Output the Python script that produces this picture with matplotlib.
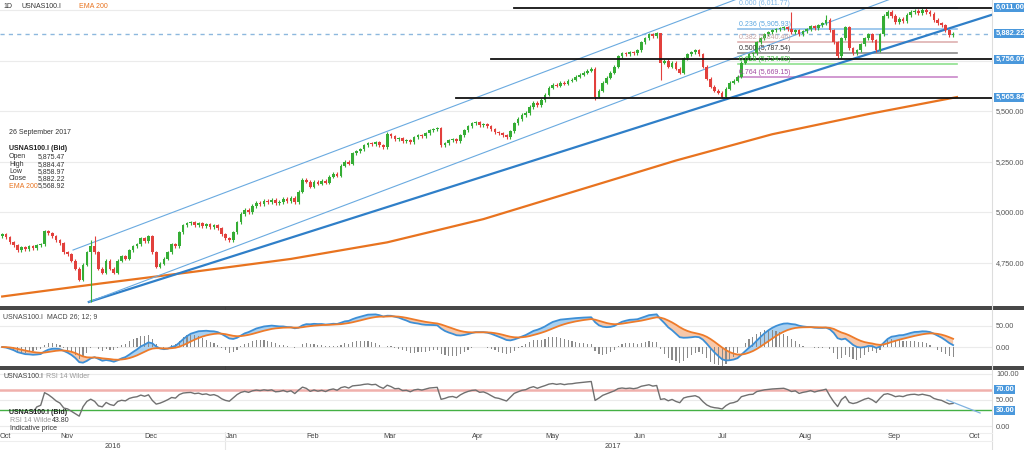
import numpy as np
import pandas as pd
import matplotlib
matplotlib.use("Agg")
import matplotlib.pyplot as plt
import matplotlib.transforms as mtransforms
from matplotlib.lines import Line2D

plt.rcParams["font.family"] = ["Liberation Sans", "DejaVu Sans"]

# ---------- data (daily closes 10 Oct 2016 .. 26 Sep 2017) ----------
close = [
    4890, 4875, 4850, 4835, 4810, 4825, 4815, 4830, 4820, 4835,
    4840, 4905, 4895, 4880, 4860, 4845, 4800, 4790, 4760, 4720,
    4665, 4740, 4800, 4830, 4800, 4720, 4700, 4760, 4720, 4700,
    4760, 4780, 4770, 4810, 4830, 4840, 4870, 4855, 4880, 4800,
    4730, 4745, 4770, 4800, 4840, 4830, 4900, 4935, 4945, 4950,
    4935, 4945, 4930, 4940, 4925, 4935, 4920, 4890, 4870, 4860,
    4900, 4950, 4990, 5010, 5000, 5030, 5045, 5040, 5055, 5050,
    5060, 5045, 5050, 5065, 5055, 5070, 5050, 5100, 5160, 5150,
    5125, 5150, 5140, 5155, 5145, 5175, 5190, 5180, 5230, 5250,
    5240, 5290, 5300, 5310, 5330, 5340, 5335, 5345, 5330, 5320,
    5385, 5375, 5360, 5365, 5350, 5355, 5345, 5370, 5380, 5375,
    5390, 5405, 5410, 5415, 5330, 5340, 5355, 5360, 5350, 5380,
    5405, 5425, 5440, 5445, 5430, 5435, 5425, 5410, 5395, 5390,
    5380, 5370, 5400, 5440, 5460, 5480, 5490, 5520, 5540, 5530,
    5555, 5580, 5615, 5630, 5625, 5640, 5635, 5650, 5655, 5670,
    5680, 5690, 5700, 5710, 5570, 5600, 5640, 5665, 5690, 5720,
    5770, 5785, 5780, 5790, 5785, 5800, 5840, 5860, 5880, 5870,
    5885, 5740, 5750, 5720, 5740, 5710, 5690, 5760, 5780, 5790,
    5800, 5780, 5720, 5660, 5620, 5600, 5590, 5570, 5610, 5640,
    5650, 5670, 5740, 5760, 5780, 5785, 5840, 5860, 5880, 5890,
    5900, 5905, 5910, 5915, 5905, 5890, 5900, 5880, 5895, 5905,
    5920, 5910, 5925, 5935, 5950, 5900, 5840, 5770, 5860, 5915,
    5810, 5785, 5800, 5830, 5860, 5880, 5850, 5800, 5880, 5970,
    5990, 5970, 5940, 5955, 5945, 5975, 5990, 5995, 5985, 6000,
    5990, 5980, 5950, 5935, 5925, 5900, 5876, 5882,
]
first_open = 4880
spike_high = {23: 4860, 24: 4880, 100: 5395, 171: 5790, 205: 5990, 214: 5975}
spike_low = {23: 4555, 114: 5320, 154: 5555, 171: 5655, 217: 5760}
holidays = ["2016-12-26", "2017-01-02", "2017-04-14"]

ema_bar = [0, 25, 50, 75, 100, 125, 150, 175, 200, 225, 248]
ema200 = [4582, 4645, 4705, 4768, 4850, 4965, 5110, 5255, 5385, 5485, 5569]

levels = [6011.00, 5756.07, 5565.84]
level_from = [133, 127, 118]
last_price = 5882.22

fib_names = ["0.000 (6,011.77)", "0.236 (5,905.93)", "0.382 (5,840.46)",
             "0.500 (5,787.54)", "0.618 (5,734.62)", "0.764 (5,669.15)"]
fib_values = [6011.77, 5905.93, 5840.46, 5787.54, 5734.62, 5669.15]
fib_line_col = ["#8fc0ea", "#8fc0ea", "#deb0b0", "#8a8a8a", "#8fe08f", "#c987c9"]
fib_text_col = ["#7fb6e6", "#5aa6e0", "#c7a5a5", "#333333", "#3cc03c", "#a24aa2"]
fib_from, fib_to = 191, 248

# trend lines: (bar0, price0, bar1, price1)
trend_thick = (22.5, 4555, 257.5, 5979)
trend_thin = [(22.5, 4555, 235, 6085), (18.4, 4812, 200, 6120)]

# ---------- indicators ----------
c = pd.Series(close, dtype=float)
o = c.shift(1).fillna(first_open)
macd = c.ewm(span=12, adjust=False).mean() - c.ewm(span=26, adjust=False).mean()
signal = macd.ewm(span=9, adjust=False).mean()
hist = macd - signal
d = c.diff().fillna(0)
gain = d.clip(lower=0).ewm(alpha=1 / 14, adjust=True).mean()
loss = (-d.clip(upper=0)).ewm(alpha=1 / 14, adjust=True).mean()
rsi = 100 - 100 / (1 + gain / loss.replace(0, np.nan))
rsi[:8] = np.nan  # warm-up

cbd = pd.offsets.CustomBusinessDay(holidays=holidays)
dates = pd.date_range(end="2017-09-26", periods=len(close), freq=cbd)
full = pd.date_range("2016-09-01", "2017-10-31", freq=cbd)
offset = full.get_loc(dates[0])

# ---------- layout ----------
W, H = 1024, 450
PLOT_R = 992
XL = (-0.57, 257.1)
FS = 5.0


def rect(x0, y0, x1, y1):
    return [x0 / W, 1 - y1 / H, (x1 - x0) / W, (y1 - y0) / H]


def px(bar):
    return (bar - XL[0]) / (XL[1] - XL[0]) * PLOT_R


def ftext(x, y, s, **kw):
    kw.setdefault("fontsize", FS)
    kw.setdefault("va", "center")
    fig.text(x / W, 1 - y / H, s, **kw)


fig = plt.figure(figsize=(W / 100, H / 100), dpi=100)
ax = fig.add_axes(rect(0, 0, PLOT_R, 307))
axm = fig.add_axes(rect(0, 310, PLOT_R, 366))
axr = fig.add_axes(rect(0, 370, PLOT_R, 432))

for a in (ax, axm, axr):
    a.set_xlim(*XL)
    a.set_xticks([])
    for s in a.spines.values():
        s.set_visible(False)
    a.yaxis.tick_right()
    a.tick_params(axis="y", length=0, labelsize=5.3, labelcolor="#555555", pad=3)

ax.set_ylim(4530, 6049.5)
axm.set_ylim(-45, 88)
axr.set_ylim(-11.5, 107.5)

# ---------- price panel ----------
for g in [4750, 5000, 5250, 5500, 5750, 6000]:
    ax.axhline(g, color="#ebebeb", lw=0.8, zorder=0)
ax.set_yticks([4750, 5000, 5250, 5500])
ax.set_yticklabels([f"{v:,.2f}" for v in [4750, 5000, 5250, 5500]])

x = np.arange(len(close))
hi = np.maximum(o, c) + 8
lo = np.minimum(o, c) - 8
for k, v in spike_high.items():
    hi[k] = v
for k, v in spike_low.items():
    lo[k] = v
up = c >= o
col = np.where(up, "#35ad35", "#e2403c")
ax.vlines(x, lo, hi, colors=col, lw=0.8, zorder=3)
body = np.maximum(np.abs(c - o), 3)
ax.bar(x, body, bottom=np.minimum(o, c), width=0.7, color=col, lw=0, zorder=4)

ax.plot(ema_bar, ema200, color="#e8731f", lw=1.6, zorder=2)

b0, p0, b1, p1 = trend_thick
ax.plot([b0, b1], [p0, p1], color="#2f7fc8", lw=1.6, zorder=2)
for b0, p0, b1, p1 in trend_thin:
    ax.plot([b0, b1], [p0, p1], color="#6aaae0", lw=0.8, zorder=2)

ax.axhline(last_price, color="#8db8de", lw=1, ls=(0, (3, 3)), zorder=1)

for lv, start in zip(levels, level_from):
    ax.plot([start, XL[1]], [lv, lv], color="#111111", lw=1.3, zorder=5)

for name, v, lc, tc in zip(fib_names, fib_values, fib_line_col, fib_text_col):
    ax.plot([fib_from, fib_to], [v, v], color=lc, lw=1.2, zorder=1)
    ax.text(fib_from + 0.5, v + 5, name, color=tc, fontsize=FS, va="bottom", ha="left", zorder=6)

box = dict(boxstyle="square,pad=0.15", fc="#4a98dc", ec="none")
for v in levels + [last_price]:
    ax.text(1.0035, v, f"{v:,.2f}", transform=mtransforms.blended_transform_factory(ax.transAxes, ax.transData),
            color="white", fontsize=5.4, fontweight="bold", va="center", ha="left", bbox=box, clip_on=False)

# ---------- MACD panel ----------
for g in [0, 50]:
    axm.axhline(g, color="#ebebeb", lw=0.8, zorder=0)
axm.set_yticks([0, 50])
axm.set_yticklabels(["0.00", "50.00"])
axm.bar(x, 1.6 * hist, width=0.3, color="#8a8a8a", zorder=2)
axm.fill_between(x, macd, signal, where=macd >= signal, interpolate=True, color="#a9d0f0", lw=0, zorder=1)
axm.fill_between(x, macd, signal, where=macd < signal, interpolate=True, color="#f7c8aa", lw=0, zorder=1)
axm.plot(x, macd, color="#3d8fd6", lw=1.3, zorder=3)
axm.plot(x, signal, color="#ee7b2a", lw=1.3, zorder=3)

# ---------- RSI panel ----------
for g in [0, 50, 100]:
    axr.axhline(g, color="#ebebeb", lw=0.8, zorder=0)
axr.axhline(70, color="#f0b0ac", lw=1.8, zorder=1)
axr.axhline(30, color="#44b044", lw=1.0, zorder=1)
axr.set_yticks([0, 50, 100])
axr.set_yticklabels(["0.00", "50.00", "100.00"])
axr.plot(x, rsi, color="#707070", lw=1.0, zorder=3)
axr.plot([245.4, 254], [50, 25], color="#7fb2e0", lw=0.9, zorder=3)
for v in [70, 30]:
    axr.text(1.0035, v, f"{v:.2f}", transform=mtransforms.blended_transform_factory(axr.transAxes, axr.transData),
             color="white", fontsize=5.4, fontweight="bold", va="center", ha="left", bbox=box, clip_on=False)

# ---------- frame lines ----------
for y in [306.5, 309.0, 366.5, 369.0]:
    fig.add_artist(Line2D([0, 1], [1 - y / H] * 2, transform=fig.transFigure, color="#111111", lw=1.1))
fig.add_artist(Line2D([PLOT_R / W] * 2, [0, 1], transform=fig.transFigure, color="#dddddd", lw=0.8))
for y in [433, 441]:
    fig.add_artist(Line2D([0, PLOT_R / W], [1 - y / H] * 2, transform=fig.transFigure, color="#eeeeee", lw=0.8))

# ---------- months / years ----------
jan_bar = None
for m in pd.date_range("2016-10-01", "2017-10-01", freq="MS"):
    bar = full.searchsorted(m) - offset
    xp = max(px(bar), 0)
    ftext(xp, 437, m.strftime("%b"), ha="left", color="#444444", fontsize=5.3)
    if m.month == 1:
        jan_bar = bar
jx = px(jan_bar)
fig.add_artist(Line2D([jx / W] * 2, [0, 1], transform=fig.transFigure, color="#e6e6e6", lw=0.8, zorder=0))
ftext(px((XL[0] + jan_bar) / 2), 446, "2016", ha="center", color="#444444", fontsize=5.3)
ftext(px((jan_bar + XL[1]) / 2) + 4, 446, "2017", ha="center", color="#444444", fontsize=5.3)

# ---------- legends / info texts ----------
ftext(3, 7, "1D", color="#333333")
ftext(22, 7, "USNAS100.I", color="#333333")
ftext(79, 7, "EMA 200", color="#e8731f")

ftext(9, 133, "26 September 2017", color="#333333")
ftext(9, 149, "USNAS100.I (Bid)", color="#222222", fontweight="bold")
info_lab = ["Open", "High", "Low", "Close"]
info_val = ["5,875.47", "5,884.47", "5,858.97", "5,882.22"]
for i, (lab, val) in enumerate(zip(info_lab, info_val)):
    ftext(9, 157 + 7.2 * i, lab, color="#333333")
    ftext(38, 157 + 7.2 * i, val, color="#333333")
ftext(9, 186, "EMA 200", color="#e8731f")
ftext(38, 186, "5,568.92", color="#333333")

ftext(3, 317, "USNAS100.I  MACD 26; 12; 9", color="#444444")
ftext(3, 377, "USNAS100.I", color="#444444")
ftext(46, 377, "RSI 14 Wilder", color="#999999")
ftext(9, 412, "USNAS100.I (Bid)", color="#222222", fontweight="bold")
ftext(10, 420, "RSI 14 Wilde", color="#999999")
ftext(52, 420, "43.80", color="#333333")
ftext(10, 429, "Indicative price", color="#333333")

fig.savefig("out.png", dpi=100, facecolor="white")
